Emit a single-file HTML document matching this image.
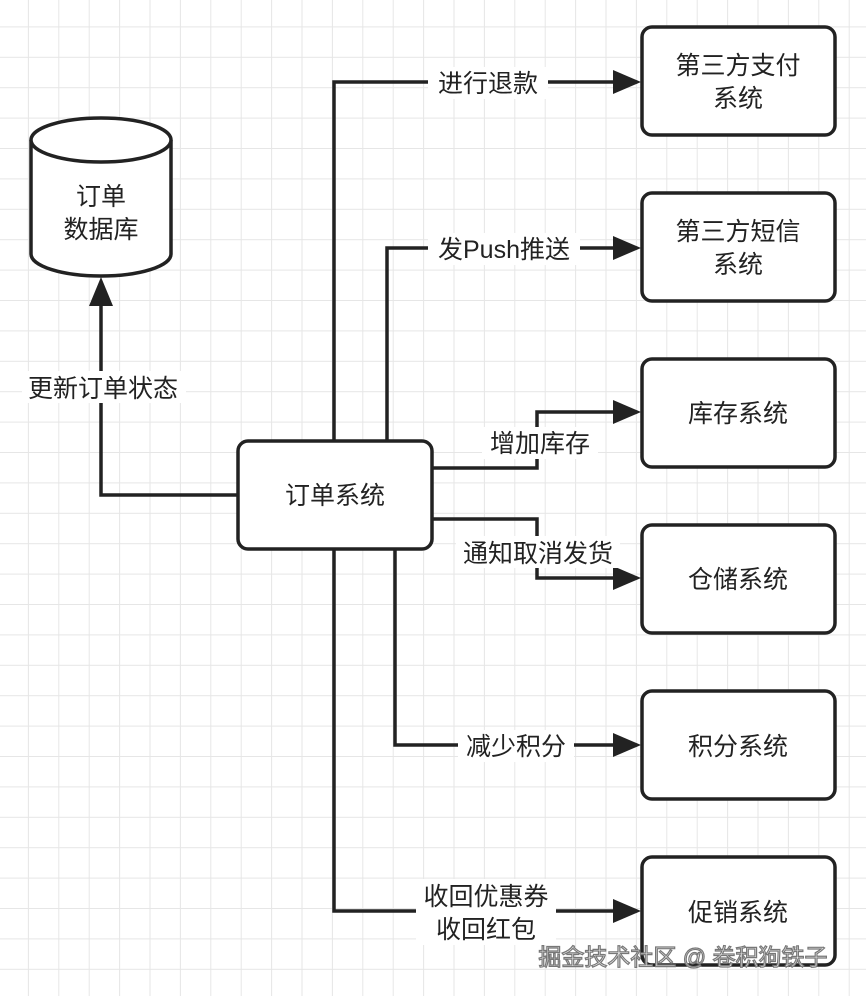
<!DOCTYPE html>
<html><head><meta charset="utf-8"><style>
html,body{margin:0;padding:0;background:#fff}
svg{display:block}
text{font-family:"Liberation Sans","Noto Sans CJK SC",sans-serif;font-size:25px;fill:#222}
</style></head><body>
<svg width="866" height="996" viewBox="0 0 866 996" xmlns="http://www.w3.org/2000/svg">
<defs>
<pattern id="g" x="-2.5" y="-4" width="30.4" height="30.4" patternUnits="userSpaceOnUse">
<path d="M0 0H30.4M0 0V30.4" stroke="#e6e6e6" stroke-width="2" fill="none"/>
</pattern>
</defs>
<rect width="866" height="996" fill="url(#g)"/>
<g stroke="#222" stroke-width="3.5" fill="none">
<polyline points="238,495 101,495 101,302"/>
<polyline points="334,441 334,82 615,82"/>
<polyline points="387,441 387,248 615,248"/>
<polyline points="432,468 537,468 537,412 615,412"/>
<polyline points="432,519 537,519 537,578 615,578"/>
<polyline points="395,549 395,745 615,745"/>
<polyline points="334,549 334,911 615,911"/>
</g>
<g fill="#222">
<polygon points="101,277 89,306 113,306"/>
<polygon points="641,82 613,70 613,94"/>
<polygon points="641,248 613,236 613,260"/>
<polygon points="641,412 613,400 613,424"/>
<polygon points="641,578 613,566 613,590"/>
<polygon points="641,745 613,733 613,757"/>
<polygon points="641,911 613,899 613,923"/>
</g>
<path d="M31 140 V254 A70 22 0 0 0 171 254 V140" fill="#fff" stroke="#222" stroke-width="3.5"/>
<ellipse cx="101" cy="140" rx="70" ry="22" fill="#fff" stroke="#222" stroke-width="3.5"/>
<text x="101" y="205" text-anchor="middle">订单</text>
<text x="101" y="238" text-anchor="middle">数据库</text>
<g fill="#fff" stroke="#222" stroke-width="3.5">
<rect x="238" y="441" width="194" height="108" rx="10"/>
<rect x="642" y="27" width="193" height="108" rx="10"/>
<rect x="642" y="193" width="193" height="108" rx="10"/>
<rect x="642" y="359" width="193" height="108" rx="10"/>
<rect x="642" y="525" width="193" height="108" rx="10"/>
<rect x="642" y="691" width="193" height="108" rx="10"/>
<rect x="642" y="857" width="193" height="108" rx="10"/>
</g>
<text x="335" y="504" text-anchor="middle">订单系统</text>
<text x="738" y="74" text-anchor="middle">第三方支付</text>
<text x="738" y="107" text-anchor="middle">系统</text>
<text x="738" y="240" text-anchor="middle">第三方短信</text>
<text x="738" y="273" text-anchor="middle">系统</text>
<text x="738" y="422" text-anchor="middle">库存系统</text>
<text x="738" y="588" text-anchor="middle">仓储系统</text>
<text x="738" y="755" text-anchor="middle">积分系统</text>
<text x="738" y="921" text-anchor="middle">促销系统</text>
<g fill="#fff">
<rect x="428" y="67" width="120" height="32"/>
<rect x="428" y="233" width="152" height="32"/>
<rect x="482" y="427" width="116" height="32"/>
<rect x="456" y="536" width="164" height="32"/>
<rect x="458" y="730" width="116" height="32"/>
<rect x="416" y="879" width="140" height="66"/>
<rect x="22" y="371" width="164" height="32"/>
</g>
<text x="488" y="92" text-anchor="middle">进行退款</text>
<text x="504" y="258" text-anchor="middle">发Push推送</text>
<text x="540" y="452" text-anchor="middle">增加库存</text>
<text x="538" y="562" text-anchor="middle">通知取消发货</text>
<text x="516" y="755" text-anchor="middle">减少积分</text>
<text x="486" y="905" text-anchor="middle">收回优惠券</text>
<text x="486" y="938" text-anchor="middle">收回红包</text>
<text x="103" y="397" text-anchor="middle">更新订单状态</text>
<text x="683" y="965" text-anchor="middle" style="font-size:23px;fill:#f4f4f4;stroke:#777;stroke-width:1.2">掘金技术社区 @ 卷积狗铁子</text>
</svg>
</body></html>
